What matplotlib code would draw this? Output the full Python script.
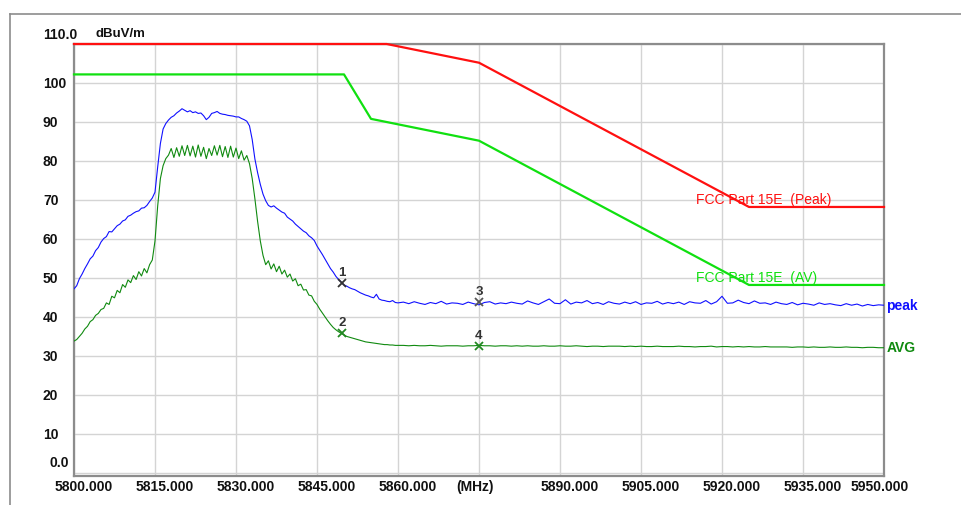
import numpy as np
import matplotlib
matplotlib.use('Agg')
import matplotlib.pyplot as plt
from matplotlib.transforms import offset_copy
from matplotlib.lines import Line2D

plt.rcParams['font.family'] = ['Liberation Sans', 'DejaVu Sans']

# ---- data ----
# peak trace: 0.5 MHz steps 5800..5860, then 1 MHz steps 5861..5950
peak_level = [
    47.2, 48.0, 49.8, 51.0, 52.4, 53.6, 54.9, 55.6, 57.0, 57.8,
    59.2, 60.1, 60.6, 61.9, 61.8, 62.6, 63.4, 63.8, 64.6, 64.9,
    65.8, 66.1, 66.6, 67.0, 67.2, 67.9, 68.0, 68.6, 69.6, 70.5,
    72.0, 78.5, 84.5, 88.2, 89.6, 90.5, 91.2, 91.6, 92.3, 92.8,
    93.4, 93.0, 92.6, 92.9, 92.4, 92.6, 92.2, 92.3, 91.6, 90.6,
    91.2, 92.2, 92.4, 92.7, 92.2, 92.0, 91.9, 91.7, 91.6, 91.5,
    91.3, 91.3, 90.9, 90.6, 90.2, 89.0, 85.5, 80.5, 77.0, 74.0,
    71.5, 69.8, 68.6, 68.2, 68.5, 67.9, 67.4, 66.9, 66.6, 65.6,
    65.1, 64.6, 63.8, 63.2, 62.6, 62.0, 61.6, 60.8, 60.3, 59.6,
    58.2, 57.1, 56.0, 54.8, 53.6, 52.4, 51.5, 50.4, 49.6, 48.9,
    48.2, 47.9, 47.5, 47.2, 47.0, 46.6, 46.2, 45.9, 45.6, 45.4,
    45.1, 44.9, 45.8, 44.6, 44.3, 44.2, 44.0, 43.9, 44.2, 43.7,
    43.6,
    43.8, 43.4, 43.9, 43.5, 43.2, 43.7, 43.4, 44.0, 43.3, 43.6,
    43.5, 43.2, 43.8, 43.4, 43.1, 43.7, 43.9, 43.3, 43.6, 43.4,
    43.8, 43.5, 43.3, 44.1, 43.6, 43.2, 43.9, 44.6, 43.5, 43.4,
    44.4, 43.3, 43.8, 43.6, 44.2, 43.4, 43.7, 43.2, 43.9, 43.5,
    43.3, 43.8, 43.4, 43.9, 43.2, 43.6, 43.5, 44.0, 43.3, 43.7,
    43.4, 43.8, 43.2, 43.9, 43.6, 43.5, 44.2, 43.3, 43.9, 45.3,
    43.5, 43.6, 44.3, 43.7, 43.4, 44.1, 43.5, 43.6, 43.2, 43.8,
    43.4, 43.2, 43.7, 43.1, 43.5, 43.3, 43.0, 43.6, 43.2, 43.4,
    43.1, 42.9, 43.4, 43.0, 43.3, 42.8, 43.2, 42.9, 43.1, 43.0,
]

avg_level = [
    33.8, 34.2, 35.0, 35.8, 36.9, 37.6, 38.8, 39.3, 40.4, 40.9,
    41.9, 42.2, 43.6, 43.2, 45.3, 44.9, 46.8, 46.2, 48.3, 47.6,
    49.5, 48.8, 50.6, 49.6, 51.6, 50.5, 52.4, 51.3, 53.4, 54.6,
    59.5, 68.5, 75.5, 78.8, 80.6, 81.5, 83.2, 80.9, 83.4, 81.2,
    83.9, 81.4, 84.0, 81.3, 83.8, 81.0, 84.1, 81.2, 83.5, 80.6,
    83.2, 81.4, 83.9, 81.5, 84.0, 81.1, 83.7, 80.9, 83.8, 81.0,
    83.3, 80.6, 82.6, 80.2, 81.4, 79.3, 75.5, 70.3, 64.5, 59.5,
    55.8, 53.4, 54.4, 52.3, 53.6, 51.6, 53.0, 51.0, 52.0, 50.2,
    51.0, 49.2, 49.8, 48.0, 48.4, 46.9, 47.0, 45.6, 45.4, 44.0,
    43.2, 42.0, 41.0, 40.0, 39.0, 38.1, 37.3, 36.7, 36.2, 35.8,
    35.4, 35.0, 34.8, 34.6, 34.4, 34.2, 34.0, 33.8, 33.6, 33.5,
    33.4, 33.3, 33.2, 33.1, 33.0, 32.9, 32.9, 32.8, 32.8, 32.7,
    32.7,
    32.7, 32.6, 32.7, 32.6, 32.6, 32.7, 32.6, 32.5, 32.6, 32.6,
    32.6, 32.5, 32.6, 32.6, 32.7, 32.6, 32.6, 32.5, 32.6, 32.6,
    32.5, 32.6, 32.5, 32.6, 32.5, 32.5, 32.6, 32.5, 32.5, 32.6,
    32.5, 32.5, 32.6, 32.5, 32.4, 32.5, 32.5, 32.4, 32.5, 32.5,
    32.5, 32.4, 32.5, 32.4, 32.5, 32.4, 32.4, 32.5, 32.4, 32.4,
    32.4, 32.5, 32.4, 32.4, 32.3, 32.4, 32.4, 32.5, 32.3, 32.4,
    32.4, 32.3, 32.4, 32.3, 32.4, 32.3, 32.3, 32.4, 32.3, 32.3,
    32.3, 32.3, 32.2, 32.3, 32.3, 32.2, 32.3, 32.2, 32.2, 32.3,
    32.2, 32.2, 32.3, 32.2, 32.2, 32.1, 32.2, 32.2, 32.1, 32.1,
]

trace_freq = np.concatenate([np.arange(5800.0, 5860.01, 0.5),
                             np.arange(5861.0, 5950.01, 1.0)])

# FCC Part 15E limit lines (peak clamped to top of screen at 110)
peak_lim_freq = [5800, 5857.9, 5875, 5925, 5950]
peak_lim_level = [110.0, 110.0, 105.2, 68.2, 68.2]
avg_lim_freq = [5800, 5850, 5855, 5875, 5925, 5950]
avg_lim_level = [102.2, 102.2, 90.8, 85.2, 48.2, 48.2]

marker_freq = [5849.6, 5849.6, 5875.0, 5875.0]
marker_level = [48.8, 35.8, 43.8, 32.6]
marker_name = ['1', '2', '3', '4']
marker_color = ['#333333', '#228822', '#555555', '#228822']

x_ticks = [5800, 5815, 5830, 5845, 5860, 5875, 5890, 5905, 5920, 5935, 5950]
x_labels = ['5800.000', '5815.000', '5830.000', '5845.000', '5860.000', '(MHz)',
            '5890.000', '5905.000', '5920.000', '5935.000', '5950.000']
y_ticks = [0, 10, 20, 30, 40, 50, 60, 70, 80, 90, 100, 110]
y_labels = ['0.0', '10', '20', '30', '40', '50', '60', '70', '80', '90', '100', '110.0']

# ---- figure ----
W, H = 962, 506
fig = plt.figure(figsize=(W / 100, H / 100), dpi=100)
ax = fig.add_axes([74 / W, 1 - 477 / H, 810 / W, 432 / H])
ax.set_xlim(5800, 5950)
ax.set_ylim(-0.8, 110)

ax.set_xticks(x_ticks)
ax.set_yticks(y_ticks)
ax.tick_params(length=0, labelbottom=False, labelleft=False)
ax.grid(True, color='#d4d4d4', lw=1.0)
ax.set_axisbelow(True)
for s in ax.spines.values():
    s.set_color('#8c8c8c')
    s.set_linewidth(1.6)

ax.plot(trace_freq, peak_level, color='#1010ff', lw=0.8, zorder=3)
ax.plot(trace_freq, avg_level, color='#108a10', lw=0.8, zorder=3)
ax.plot(peak_lim_freq, peak_lim_level, color='#ff1010', lw=1.6, zorder=4, clip_on=False)
ax.plot(avg_lim_freq, avg_lim_level, color='#10e010', lw=1.6, zorder=4, clip_on=False)

for f, v, n, c in zip(marker_freq, marker_level, marker_name, marker_color):
    ax.plot(f, v, marker='x', ms=6, mew=1.3, color=c, zorder=5)
    ax.text(f, v, n, transform=offset_copy(ax.transData, fig=fig, x=0, y=11, units='dots'),
            ha='center', va='center', fontsize=9.5, fontweight='bold', color='#333333')

# axis labels drawn by hand, the way the analyzer places them
for t, lab in zip(x_ticks, x_labels):
    dx = -4 if t in (5875, 5950) else 10
    ax.text(t, -0.8, lab, transform=offset_copy(ax.transData, fig=fig, x=dx, y=-10, units='dots'),
            ha='center', va='center', fontsize=10, fontweight='bold', color='#111111')
for t, lab in zip(y_ticks, y_labels):
    dx, dy = -31, 0
    if t == 0:
        dx, dy = -24, 11
    elif t == 110:
        dy = 10
    ax.text(5800, t, lab, transform=offset_copy(ax.transData, fig=fig, x=dx, y=dy, units='dots'),
            ha='left', va='center', fontsize=10, fontweight='bold', color='#111111')
ax.text(5800, 110, 'dBuV/m', transform=offset_copy(ax.transData, fig=fig, x=22, y=11, units='dots'),
        ha='left', va='center', fontsize=9.5, fontweight='bold', color='#111111')

# trace / limit names
ax.text(5915.2, 70.3, 'FCC Part 15E  (Peak)', ha='left', va='center', fontsize=10, color='#ff1010', zorder=6)
ax.text(5915.2, 50.3, 'FCC Part 15E  (AV)', ha='left', va='center', fontsize=10, color='#10e010', zorder=6)
ax.text(5950, 43.0, 'peak', transform=offset_copy(ax.transData, fig=fig, x=2, y=0, units='dots'),
        ha='left', va='center', fontsize=10, fontweight='bold', color='#1010ff')
ax.text(5950, 32.4, 'AVG', transform=offset_copy(ax.transData, fig=fig, x=3, y=0, units='dots'),
        ha='left', va='center', fontsize=10, fontweight='bold', color='#108a10')

# screenshot frame
fig.add_artist(Line2D([10 / W, 1], [1 - 15 / H, 1 - 15 / H], transform=fig.transFigure, color='#8c8c8c', lw=1.2))
fig.add_artist(Line2D([10 / W, 10 / W], [0, 1 - 15 / H], transform=fig.transFigure, color='#8c8c8c', lw=1.2))

fig.savefig('out.png', dpi=100)
